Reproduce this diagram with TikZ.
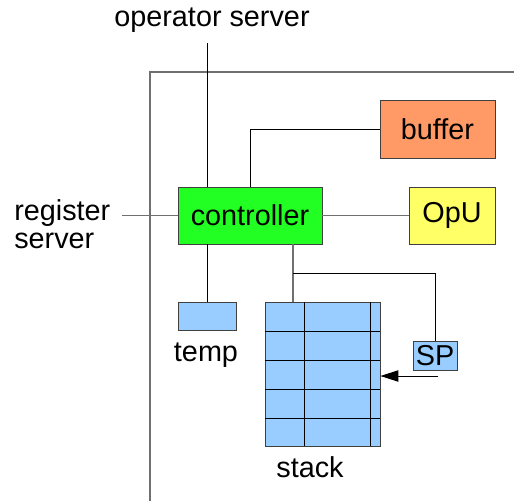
\documentclass[tikz,border=0pt]{standalone}
\usepackage{fontspec}
\setmainfont{Liberation Sans}
\usetikzlibrary{arrows.meta}
\definecolor{ctrlgreen}{HTML}{22FF22}
\definecolor{bufforange}{HTML}{FF9966}
\definecolor{opuyellow}{HTML}{FFFF66}
\definecolor{cellblue}{HTML}{99CCFF}
\definecolor{framegray}{HTML}{707070}
\tikzset{
  unit/.style={draw=black!75, line width=0.6pt, inner sep=0pt, font=\fontsize{21.6}{25}\selectfont},
  lbl/.style={inner sep=0pt, font=\fontsize{21.6}{25}\selectfont},
  wire/.style={line width=0.75pt, black},
  graywire/.style={line width=0.9pt, framegray},
  cellline/.style={line width=0.6pt, black}
}
\begin{document}
\begin{tikzpicture}[x=0.75pt, y=-0.75pt]
\useasboundingbox (0,0) rectangle (514,501);

% outer frame of the unit
\coordinate (fb) at (150,501);
\coordinate (fc) at (150,72);
\coordinate (fr) at (514,72);
\draw[graywire] (fb) -- (fc) -- (fr);

% functional blocks
\node[unit, fill=ctrlgreen, minimum width=144*0.75pt, minimum height=57*0.75pt] (ctrl) at (250,215.5) {controller};
\node[unit, fill=bufforange, minimum width=115*0.75pt, minimum height=58*0.75pt] (buf) at (437.5,129) {buffer};
\node[unit, fill=opuyellow, minimum width=86*0.75pt, minimum height=57*0.75pt] (opu) at (452,215.5) {OpU};
\node[unit, fill=cellblue, minimum width=58*0.75pt, minimum height=28*0.75pt] (temp) at (207,316) {};
\node[unit, fill=cellblue, minimum width=115*0.75pt, minimum height=144*0.75pt] (stack) at (322.5,374) {};
\node[unit, fill=cellblue, minimum width=44*0.75pt, minimum height=29*0.75pt] (sp) at (435,355.5) {SP};

% stack cells
\foreach \yy in {331,360,389,418} {
  \draw[cellline] (stack.west |- 0,\yy) -- (stack.east |- 0,\yy);
}
\foreach \xx in {304,370} {
  \draw[cellline] (\xx,0 |- stack.north) -- (\xx,0 |- stack.south);
}

% labels
\node[lbl] (oplbl) at (212,20) {operator server};
\node[lbl, align=left, anchor=west] (reglbl) at (14,224) {register\\[-4pt]server};
\node[lbl] (templbl) at (206,355) {temp};
\node[lbl] (stacklbl) at (310,467) {stack};

% connections
\coordinate (optop) at (207,43);
\draw[wire] (optop) -- (optop |- ctrl.north);
\coordinate (bufdrop) at (250,0);
\draw[wire] (buf.west) -| (bufdrop |- ctrl.north);
\coordinate (regend) at (122,215.5);
\draw[graywire] (regend) -- (ctrl.west);
\draw[graywire] (ctrl.east) -- (opu.west);
\coordinate (tempdrop) at (207,0);
\draw[wire] (tempdrop |- ctrl.south) -- (temp.north);
\coordinate (stackdrop) at (293,0);
\draw[graywire] (stackdrop |- ctrl.south) -- (stackdrop |- stack.north);
\coordinate (spbranch) at (293,273);
\draw[wire] (spbranch) -| (sp.north);
\coordinate (sparrow) at (438,376);
\draw[wire, -{Triangle[length=13.5pt, width=8.5pt]}] (sparrow) -- (sparrow -| stack.east);
\end{tikzpicture}
\end{document}
